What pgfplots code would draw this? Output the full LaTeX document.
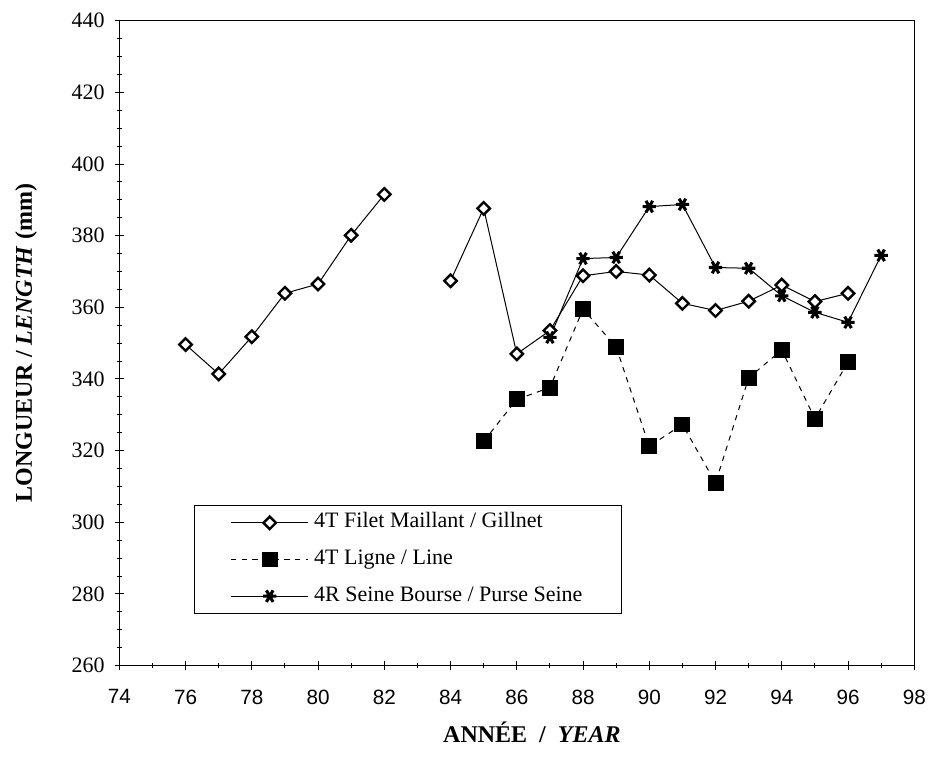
\documentclass[border=0pt]{standalone}
\usepackage{fontspec}
\setmainfont{Liberation Serif}
\setsansfont{Liberation Sans}
\usepackage{pgfplots}
\pgfplotsset{compat=1.18}

\begin{document}
\begin{tikzpicture}
\begin{axis}[
  scale only axis,
  clip=false,
  width=596.25pt, height=483.75pt,
  xmin=74, xmax=98, ymin=260, ymax=440,
  xtick distance=2, ytick distance=20,
  minor x tick num=1, minor y tick num=3,
  tick pos=left, tick align=center,
  major tick length=7pt, minor tick length=4pt,
  axis line style={line width=0.9pt},
  every tick/.style={black, line width=0.7pt},
  /pgf/number format/assume math mode=true,
  xticklabel style={font=\fontsize{15.5}{15.5}\selectfont\sffamily, yshift=-11pt},
  yticklabel style={font=\fontsize{16.5}{16.5}\selectfont, xshift=-4pt},
  unbounded coords=jump,
  legend cell align=left,
  legend style={
    at={(rel axis cs:0.094,0.2496)}, anchor=north west,
    draw=black, line width=0.8pt,
    font=\fontsize{16.5}{16.5}\selectfont,
    inner xsep=27pt, inner ysep=4pt,
    row sep=9pt, column sep=2pt,
    nodes={text height=11pt, text depth=3.5pt, inner sep=2pt, line width=0.8pt},
  },
  legend image code/.code={%
    \draw[mark repeat=2,mark phase=2,#1]
      plot coordinates {(0pt,0pt) (29pt,0pt) (58pt,0pt)};},
]
\coordinate (sw) at (rel axis cs:0,0);
\coordinate (ne) at (rel axis cs:1,1);

% 4T Filet Maillant / Gillnet
\addplot[black, line width=0.75pt, mark=square*, mark size=3.3pt,
  mark options={fill=white, line width=1.8pt, solid, rotate=45}]
coordinates {
 (76,349.6) (77,341.4) (78,351.8) (79,363.9) (80,366.5) (81,380.1) (82,391.5)
 (83,nan)
 (84,367.4) (85,387.6) (86,347.0) (87,353.5) (88,368.8) (89,370.0) (90,369.0)
 (91,361.1) (92,359.1) (93,361.7) (94,366.2) (95,361.6) (96,363.9)
};
\addlegendentry{4T Filet Maillant / Gillnet}

% 4T Ligne / Line
\addplot[black, line width=0.75pt, dash pattern=on 4pt off 4pt,
  mark=square*, mark size=5.6pt, mark options={fill=black, solid}]
coordinates {
 (85,322.6) (86,334.3) (87,337.6) (88,359.5) (89,348.9) (90,321.2)
 (91,327.3) (92,311.0) (93,340.3) (94,348.1) (95,328.9) (96,344.7)
};
\addlegendentry{4T Ligne / Line}

% 4R Seine Bourse / Purse Seine
\addplot[black, line width=0.75pt, mark=asterisk, mark size=5pt,
  mark options={line width=2.3pt, solid, rotate=90}]
coordinates {
 (87,351.6) (88,373.6) (89,373.9) (90,388.1) (91,388.7) (92,371.1)
 (93,370.9) (94,363.2) (95,358.6) (96,355.8) (97,374.5)
};
\addlegendentry{4R Seine Bourse / Purse Seine}

\node[font=\fontsize{18}{18}\selectfont\bfseries, xshift=-70pt, rotate=90]
  at (rel axis cs:0,0.5) {LONGUEUR / \textit{LENGTH} (mm)};
\node[font=\fontsize{18}{18}\selectfont\bfseries, yshift=-50pt]
  at (rel axis cs:0.519,0) {ANNÉE \ / \ \textit{YEAR}};
\end{axis}
\pgfresetboundingbox
\path ([shift={(-89.5pt,-75pt)}]sw) rectangle ([shift={(11.8pt,15.5pt)}]ne);
\end{tikzpicture}
\end{document}
